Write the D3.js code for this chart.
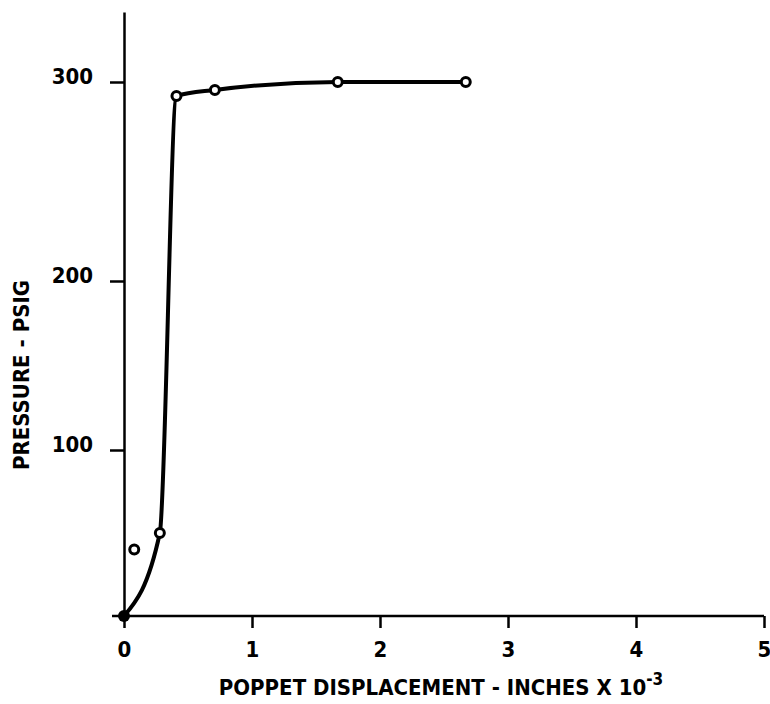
<!DOCTYPE html>
<html>
<head>
<meta charset="utf-8">
<script src="https://cdn.jsdelivr.net/npm/d3@7"></script>
<style>
  body { margin: 0; background: #fff; }
  svg { display: block; }
  .axis path, .axis line { stroke: #000; stroke-width: 2.5; }
  .axis text { font-family: "DejaVu Sans Condensed", "DejaVu Sans", sans-serif; font-weight: bold; font-size: 22px; fill: #000; }
  .title { font-family: "DejaVu Sans Condensed", "DejaVu Sans", sans-serif; font-weight: bold; font-size: 22px; fill: #000; }
</style>
</head>
<body>
<svg id="chart"></svg>
<script>
// tick labels
const xTicks = [0, 1, 2, 3, 4, 5]
const yTicks = [100, 200, 300]

// faired curve through the test points (displacement x 10^-3 in, psig)
const curveX = [0, 0.28, 0.41, 0.71, 1.67, 2.67]
const curveP = [0, 50, 293, 296, 300, 300]

// measured points (open circles)
const pointX = [0.08, 0.28, 0.41, 0.71, 1.67, 2.67]
const pointP = [40, 50, 293, 296, 300, 300]

// origin point (filled)
const originX = [0]
const originP = [0]

const width = 770, height = 704

const svg = d3.select('#chart')
    .attr('width', width)
    .attr('height', height)

// x axis scale
const x = d3.scaleLinear()
    .domain([0, 5])
    .range([124, 764])

// y axis scale -- the original grid is hand drawn, spacing is not even
const y = d3.scaleLinear()
    .domain([0, 100, 200, 300, 335])
    .range([616, 450, 281, 82, 12])

const xAxis = svg.append('g')
    .attr('class', 'axis')
    .attr('transform', 'translate(0,616)')
    .call(d3.axisBottom(x).tickValues(xTicks).tickFormat(d3.format('d')).tickSize(12).tickSizeOuter(0).tickPadding(13))
xAxis.select('.domain').attr('d', 'M112,0H' + x(5))

const yAxis = svg.append('g')
    .attr('class', 'axis')
    .attr('transform', 'translate(124,0)')
    .call(d3.axisLeft(y).tickValues(yTicks).tickSize(14).tickSizeOuter(0).tickPadding(17))
yAxis.selectAll('.tick text').attr('dy', '0.05em')

// line
const line = d3.line()
    .x(d => x(d[0]))
    .y(d => y(d[1]))
    .curve(d3.curveMonotoneX)

svg.append('path')
    .datum(d3.zip(curveX, curveP))
    .attr('fill', 'none')
    .attr('stroke', '#000')
    .attr('stroke-width', 4)
    .attr('stroke-linejoin', 'round')
    .attr('d', line)

svg.selectAll('.pt')
    .data(d3.zip(pointX, pointP))
    .join('circle')
    .attr('class', 'pt')
    .attr('cx', d => x(d[0]))
    .attr('cy', d => y(d[1]))
    .attr('r', 4.5)
    .attr('fill', '#fff')
    .attr('stroke', '#000')
    .attr('stroke-width', 3)

svg.selectAll('.origin')
    .data(d3.zip(originX, originP))
    .join('circle')
    .attr('class', 'origin')
    .attr('cx', d => x(d[0]))
    .attr('cy', d => y(d[1]))
    .attr('r', 6)
    .attr('fill', '#000')

// x label
const xt = svg.append('text')
    .attr('class', 'title')
    .attr('x', 441)
    .attr('y', 695)
    .attr('text-anchor', 'middle')
xt.append('tspan').text('POPPET DISPLACEMENT - INCHES X 10')
xt.append('tspan').attr('dy', -10).attr('font-size', 17).text('-3')

// y label
svg.append('text')
    .attr('class', 'title')
    .attr('font-size', 21)
    .attr('transform', 'translate(29,375) rotate(-90)')
    .attr('text-anchor', 'middle')
    .text('PRESSURE - PSIG')
</script>
</body>
</html>
